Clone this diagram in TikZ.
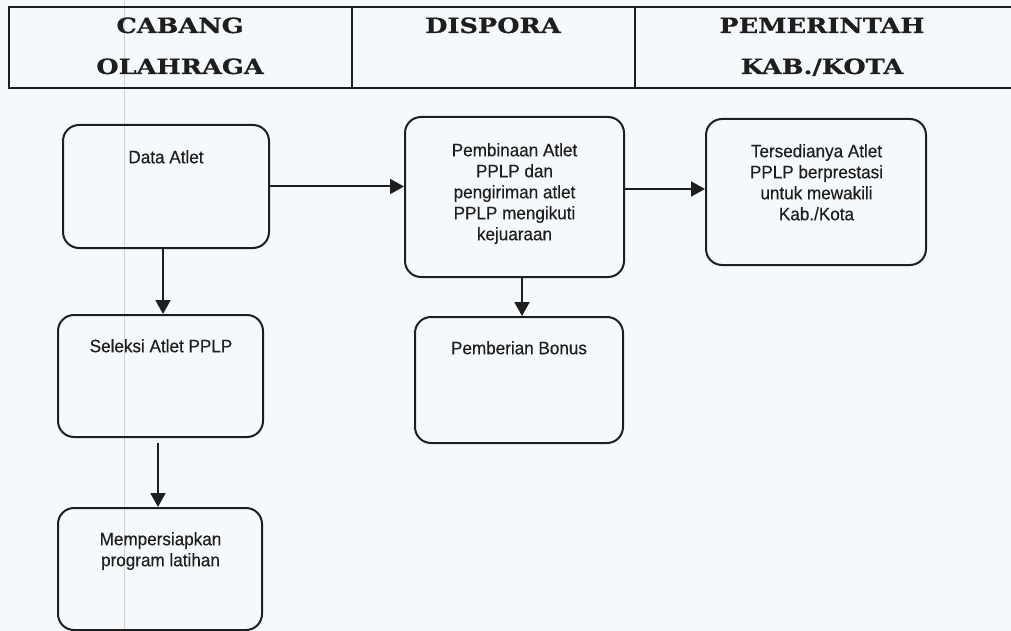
\documentclass[tikz,border=0pt]{standalone}
\usepackage{fontspec}
\setmainfont[FakeStretch=0.95,FakeBold=0.4]{Liberation Sans}
\newfontfamily\headfont[FakeStretch=1.22,FakeBold=0.6]{DejaVu Serif Bold}
\usetikzlibrary{arrows.meta,calc}
\definecolor{bgc}{HTML}{F6F9FB}
\definecolor{ink}{HTML}{1E1E1E}
\tikzset{
  hline/.style={draw=ink, line width=1.9pt},
  head/.style={font=\headfont\fontsize{21}{25}\selectfont, text=ink, inner sep=0pt, anchor=base},
  box/.style={draw=ink, line width=2pt, rounded corners=16pt, inner sep=0pt},
  txt/.style={font=\fontsize{18}{21}\selectfont, text=ink, align=center, inner sep=0pt, anchor=north},
  arr/.style={draw=ink, line width=2pt, -{Triangle[width=15pt,length=14pt]}}
}
\begin{document}
\begin{tikzpicture}[x=1pt,y=-1pt]
\fill[bgc] (0,0) rectangle (1011,631);
\useasboundingbox (0,0) rectangle (1011,631);
% scan artifact line
\draw[black!18, line width=0.6pt] (124,0) -- (124,631);
% header table
\draw[hline] (1011,7) -- (9,7) -- (9,88) -- (1011,88);
\draw[hline] (352,7) -- (352,88);
\draw[hline] (635,7) -- (635,88);
\node[head] (h1a) at (180,33) {CABANG};
\node[head] (h1b) at (180,74) {OLAHRAGA};
\node[head] (h2a) at (493,33) {DISPORA};
\node[head] (h3a) at (822,33) {PEMERINTAH};
\node[head] (h3b) at (822,74) {KAB./KOTA};
% boxes
\node[box, minimum width=206pt, minimum height=123pt] (da) at (166,186.5) {};
\node[box, minimum width=219pt, minimum height=160pt] (pb) at (514.5,197) {};
\node[box, minimum width=220pt, minimum height=146pt] (ts) at (816,192) {};
\node[box, minimum width=205pt, minimum height=122pt] (sel) at (160.5,376) {};
\node[box, minimum width=204pt, minimum height=122pt] (mem) at (160,569) {};
\node[box, minimum width=208pt, minimum height=126pt] (bon) at (519,380) {};
% texts
\node[txt] (dat) at (166,150) {Data Atlet};
\node[txt] (pbt) at (514.5,143) {Pembinaan Atlet\\PPLP dan\\pengiriman atlet\\PPLP mengikuti\\kejuaraan};
\node[txt] (tst) at (816.5,144) {Tersedianya Atlet\\PPLP berprestasi\\untuk mewakili\\Kab./Kota};
\node[txt] (selt) at (161,339) {Seleksi Atlet PPLP};
\node[txt] (memt) at (160.5,532) {Mempersiapkan\\program latihan};
\node[txt] (bont) at (519,341) {Pemberian Bonus};
% connectors
\draw[arr] (da.east) -- (da.east -| pb.west);
\draw[arr] ([yshift=3pt]ts.west -| pb.east) -- ([yshift=3pt]ts.west);
\draw[arr] ([xshift=-3pt]da.south) -- ([xshift=-3pt]da.south |- sel.north);
\draw[arr, shorten <=5pt] ([xshift=-2.5pt]sel.south) -- ([xshift=-2.5pt]sel.south |- mem.north);
\draw[arr] ([xshift=3pt]bon.north |- pb.south) -- ([xshift=3pt]bon.north);
\end{tikzpicture}
\end{document}
